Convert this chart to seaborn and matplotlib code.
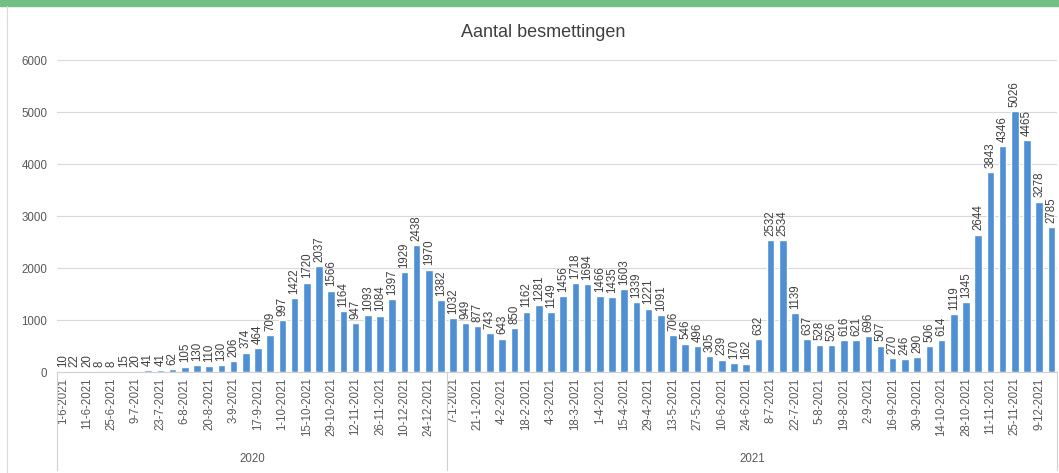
import pandas as pd
import matplotlib
matplotlib.use("Agg")
from matplotlib import pyplot as plt
from matplotlib.lines import Line2D
from matplotlib.patches import Rectangle
import seaborn as sns

# weekly dates, written as in the original chart (the 2020 ones also say -2021)
datums_2020 = [
    "1-6-2021", "4-6-2021", "11-6-2021", "18-6-2021", "25-6-2021", "2-7-2021",
    "9-7-2021", "16-7-2021", "23-7-2021", "30-7-2021", "6-8-2021", "13-8-2021",
    "20-8-2021", "27-8-2021", "3-9-2021", "10-9-2021", "17-9-2021", "24-9-2021",
    "1-10-2021", "8-10-2021", "15-10-2021", "22-10-2021", "29-10-2021", "5-11-2021",
    "12-11-2021", "19-11-2021", "26-11-2021", "3-12-2021", "10-12-2021", "17-12-2021",
    "24-12-2021", "31-12-2021",
]
aantal_2020 = [
    10, 22, 20, 8, 8, 15, 20, 41, 41, 62, 105, 130, 110, 130, 206, 374,
    464, 709, 997, 1422, 1720, 2037, 1566, 1164, 947, 1093, 1084, 1397, 1929, 2438,
    1970, 1382,
]

datums_2021 = [
    "7-1-2021", "14-1-2021", "21-1-2021", "28-1-2021", "4-2-2021", "11-2-2021",
    "18-2-2021", "25-2-2021", "4-3-2021", "11-3-2021", "18-3-2021", "25-3-2021",
    "1-4-2021", "8-4-2021", "15-4-2021", "22-4-2021", "29-4-2021", "6-5-2021",
    "13-5-2021", "20-5-2021", "27-5-2021", "3-6-2021", "10-6-2021", "17-6-2021",
    "24-6-2021", "1-7-2021", "8-7-2021", "15-7-2021", "22-7-2021", "29-7-2021",
    "5-8-2021", "12-8-2021", "19-8-2021", "26-8-2021", "2-9-2021", "9-9-2021",
    "16-9-2021", "23-9-2021", "30-9-2021", "7-10-2021", "14-10-2021", "21-10-2021",
    "28-10-2021", "4-11-2021", "11-11-2021", "18-11-2021", "25-11-2021", "2-12-2021",
    "9-12-2021", "16-12-2021",
]
aantal_2021 = [
    1032, 949, 877, 743, 643, 850, 1162, 1281, 1149, 1456, 1718, 1694, 1466, 1435,
    1603, 1339, 1221, 1091, 706, 546, 496, 305, 239, 170, 162, 632, 2532, 2534,
    1139, 637, 528, 526, 616, 621, 696, 507, 270, 246, 290, 506, 614, 1119, 1345,
    2644, 3843, 4346, 5026, 4465, 3278, 2785,
]

jaren = ["2020", "2021"]

df = pd.DataFrame({
    "datum": datums_2020 + datums_2021,
    "aantal": aantal_2020 + aantal_2021,
    "jaar": [jaren[0]] * len(datums_2020) + [jaren[1]] * len(datums_2021),
})

sns.set_style("white")
plt.rcParams["font.family"] = ["Liberation Sans", "DejaVu Sans"]

fig = plt.figure(figsize=(10.59, 4.73), dpi=100)
ax = fig.add_axes([0.054, 0.2135, 0.944, 0.6595])

sns.barplot(data=df, x="datum", y="aantal", color="#4f8fd3", width=0.62,
            saturation=1, ax=ax)

# value labels above every bar
for container in ax.containers:
    ax.bar_label(container, rotation=90, padding=3, fontsize=8.3, color="#404040")

n = len(df)
ax.set_xlim(-0.45, n - 0.55)
ax.set_ylim(0, 6000)
ax.set_yticks(range(0, 6001, 1000))
ax.tick_params(axis="y", labelsize=8.3, labelcolor="#595959", length=0, pad=7)
ax.set_xticks(range(0, n, 2))
ax.set_xticklabels(df["datum"][::2], rotation=90, fontsize=8.3, color="#595959")
ax.tick_params(axis="x", length=0, pad=4)
ax.grid(axis="y", color="#d9d9d9", linewidth=0.8)
ax.set_axisbelow(True)
ax.set_xlabel("")
ax.set_ylabel("")
for side in ["left", "right", "top"]:
    ax.spines[side].set_visible(False)
ax.spines["bottom"].set_color("#d0d0d0")
ax.spines["bottom"].set_linewidth(0.8)

# second level of the category axis: years with separator lines
trans = ax.get_xaxis_transform()
n20 = len(datums_2020)
for x in [-0.45, n20 - 0.5, n - 0.55]:
    ax.add_line(Line2D([x, x], [0, -0.315], transform=trans, color="#d0d0d0",
                       linewidth=0.8, clip_on=False))
ax.text((n20 - 1) / 2, -0.28, jaren[0], transform=trans, ha="center",
        va="center", fontsize=8.3, color="#595959")
ax.text((n20 + n - 1) / 2, -0.28, jaren[1], transform=trans, ha="center",
        va="center", fontsize=8.3, color="#595959")

fig.text(0.513, 0.932, "Aantal besmettingen", ha="center", va="center",
         fontsize=13, color="#404040")

# green strip on top and the chart frame on the left
fig.patches.append(Rectangle((0, 0.988), 1, 0.012, transform=fig.transFigure,
                             color="#72c084", zorder=0))
fig.lines.append(Line2D([0.0066, 0.0066], [0, 0.988], transform=fig.transFigure,
                        color="#d9d9d9", linewidth=0.8))

plt.savefig("out.png", dpi=100)
